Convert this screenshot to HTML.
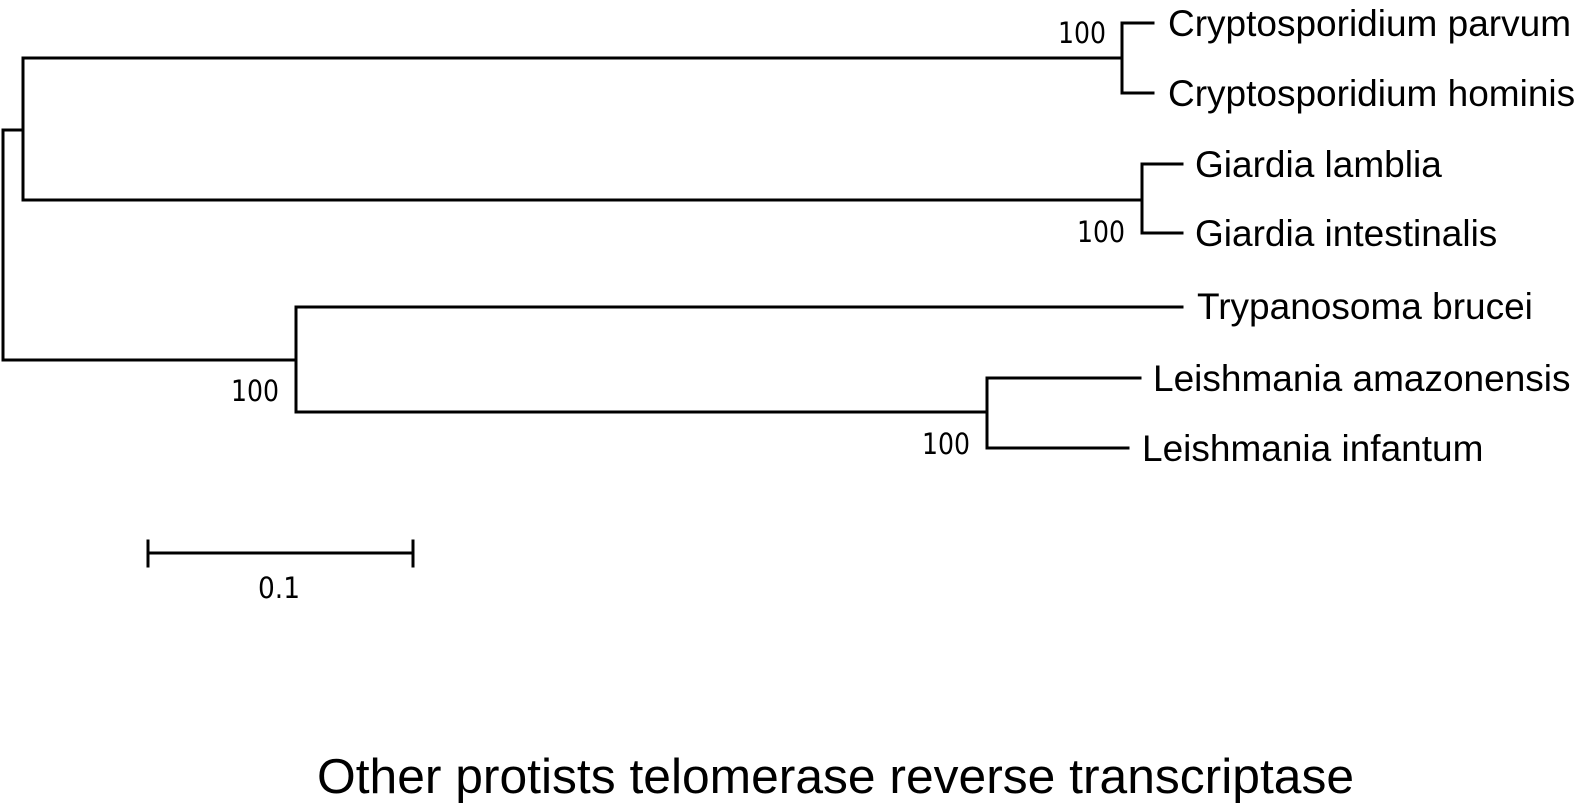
<!DOCTYPE html>
<html><head><meta charset="utf-8"><style>
html,body{margin:0;padding:0;background:#fff;}
svg{display:block;}
.l{font-family:"Liberation Sans",Arial,sans-serif;font-size:37px;fill:#000;}
.b{font-family:"DejaVu Sans Condensed","DejaVu Sans",sans-serif;font-size:29px;fill:#000;}
</style></head><body>
<svg width="1594" height="805" viewBox="0 0 1594 805" xmlns="http://www.w3.org/2000/svg">
<g stroke="#000" stroke-width="3" fill="none" stroke-linecap="square">
<polyline points="23,130 3,130 3,360 296,360"/>
<polyline points="1122,58 23,58 23,200 1142,200"/>
<polyline points="1153,23 1122,23 1122,93 1153,93"/>
<polyline points="1182,164 1142,164 1142,233 1182,233"/>
<polyline points="1182,307 296,307 296,412 987,412"/>
<polyline points="1140,378 987,378 987,448 1128,448"/>
<line x1="148" y1="553" x2="413" y2="553"/>
<line x1="148" y1="541" x2="148" y2="566"/>
<line x1="413" y1="541" x2="413" y2="566"/>
</g>
<text class="l" x="1168" y="36">Cryptosporidium parvum</text>
<text class="l" x="1168" y="106">Cryptosporidium hominis</text>
<text class="l" x="1195" y="177">Giardia lamblia</text>
<text class="l" x="1195" y="246">Giardia intestinalis</text>
<text class="l" x="1197" y="319">Trypanosoma brucei</text>
<text class="l" x="1153" y="391">Leishmania amazonensis</text>
<text class="l" x="1142" y="461">Leishmania infantum</text>
<text class="b" x="1058" y="43" textLength="48" lengthAdjust="spacingAndGlyphs">100</text>
<text class="b" x="1077" y="242" textLength="48" lengthAdjust="spacingAndGlyphs">100</text>
<text class="b" x="231" y="401" textLength="48" lengthAdjust="spacingAndGlyphs">100</text>
<text class="b" x="922" y="454" textLength="48" lengthAdjust="spacingAndGlyphs">100</text>
<text class="b" x="258" y="598" textLength="42" lengthAdjust="spacingAndGlyphs">0.1</text>
<text x="317" y="793" font-family="Liberation Sans, Arial, sans-serif" font-size="49" fill="#000" textLength="1037" lengthAdjust="spacingAndGlyphs">Other protists telomerase reverse transcriptase</text>
</svg>
</body></html>
